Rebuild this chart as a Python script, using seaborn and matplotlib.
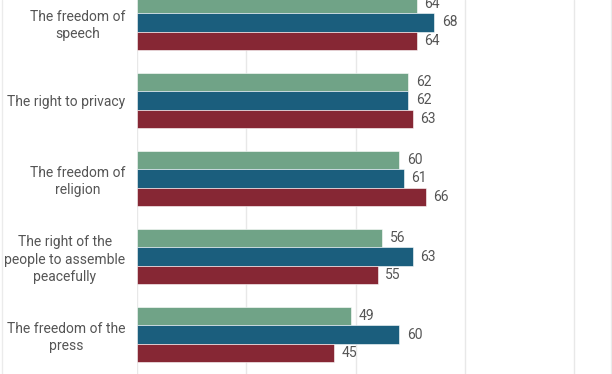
import matplotlib
matplotlib.use("Agg")
import matplotlib.pyplot as plt
import seaborn as sns
import pandas as pd
from matplotlib.lines import Line2D

# Data
rights = [
    "The freedom of\nspeech",
    "The right to privacy",
    "The freedom of\nreligion",
    "The right of the\npeople to assemble\npeacefully",
    "The freedom of the\npress",
]
groups = ["All", "Democrats", "Republicans"]
all_vals = [64, 62, 60, 56, 49]
dem_vals = [68, 62, 61, 63, 60]
rep_vals = [64, 63, 66, 55, 45]

colors = ["#70a387", "#1b5e7d", "#862734"]


def build_frame():
    rows = []
    for g, vals in zip(groups, [all_vals, dem_vals, rep_vals]):
        for r, v in zip(rights, vals):
            rows.append({"Right": r, "Group": g, "Value": v})
    return pd.DataFrame(rows)


def plot_rights(data):
    sns.set_style("white")
    plt.rcParams["font.family"] = ["Roboto", "DejaVu Sans"]

    fig = plt.figure(figsize=(6.12, 3.74), dpi=100)
    ax = fig.add_axes([137 / 612, 0, 475 / 612, 1])

    sns.barplot(data=data, x="Value", y="Right", hue="Group", order=rights,
                hue_order=groups, palette=colors, saturation=1, orient="h",
                width=0.705, edgecolor="white", linewidth=0.4, legend=False,
                ax=ax)

    for cont in ax.containers:
        ax.bar_label(cont, padding=5.5, fontsize=10, color="#555555")

    ax.set_xlim(0, 108.6)
    ax.set_ylim(4.506, -0.288)
    ax.set_xticks([0, 25, 50, 75, 100])
    ax.xaxis.grid(True, color="#e8e8e8", linewidth=1)
    ax.set_axisbelow(True)
    ax.tick_params(axis="x", labelbottom=False, length=0)
    ax.tick_params(axis="y", length=0, pad=8.5, labelsize=10, labelcolor="#555555")
    for lab in ax.get_yticklabels():
        lab.set_multialignment("center")
        lab.set_linespacing(1.3)
    ax.set_xlabel("")
    ax.set_ylabel("")
    sns.despine(ax=ax, left=True, bottom=True)

    # light border at the left and right edges of the chart
    for xpos in [1.5 / 612, 610.5 / 612]:
        fig.add_artist(Line2D([xpos, xpos], [0, 1], transform=fig.transFigure,
                              color="#ebebeb", linewidth=1))

    fig.savefig("out.png", dpi=100)


if __name__ == "__main__":
    plot_rights(build_frame())
